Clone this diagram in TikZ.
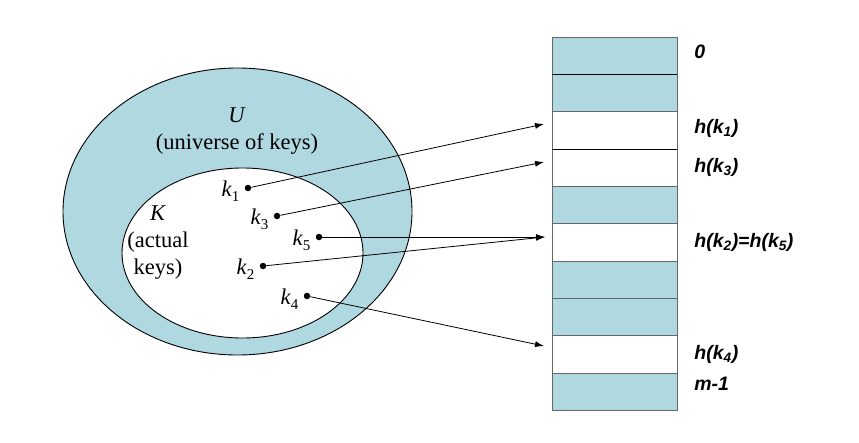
\documentclass[tikz,border=0pt]{standalone}
\usepackage{xcolor}
\usepackage{tikz}
\usepackage{fontspec}
\setmainfont{Liberation Serif}
\newfontfamily\labelfont{Liberation Sans}
\usetikzlibrary{shapes.geometric, arrows, arrows.meta, positioning, calc}

\definecolor{cellblue}{RGB}{176,216,224}

\begin{document}
\begin{tikzpicture}[x=1pt, y=-1pt]
    \tikzstyle{cell} = [rectangle, draw=black!60, fill=cellblue, minimum width=125pt, minimum height=37.3pt, inner sep=0pt]
    \tikzstyle{keydot} = [circle, fill=black, inner sep=0pt, minimum size=6.5pt]
    \tikzstyle{keylbl} = [inner sep=0pt, font=\fontsize{22.5}{27}\selectfont]
    \tikzstyle{slotlbl} = [anchor=west, inner sep=0pt, font=\labelfont\bfseries\itshape\fontsize{19.5}{21}\selectfont]
    \tikzstyle{link} = [-{Latex[length=9pt, width=6pt]}, line width=0.8pt]

    \useasboundingbox (0,0) rectangle (859,442);

    % universe and actual keys
    \node[ellipse, draw, line width=0.9pt, fill=cellblue, minimum width=349pt, minimum height=287pt] (universe) at (237.5,211.5) {};
    \node[ellipse, draw, line width=0.9pt, fill=white, minimum width=241pt, minimum height=170pt] (actual) at (242.5,253) {};

    \node[keylbl, align=center] (ulbl) at (237,131) {\textit{U}\\(universe of keys)};
    \node[keylbl, align=center] (klbl) at (158,243) {\textit{K}\\(actual\\keys)};

    % keys
    \node[keydot] (k1) at (248,188) {};
    \node[keydot] (k3) at (277,216) {};
    \node[keydot] (k5) at (319,237) {};
    \node[keydot] (k2) at (263,266) {};
    \node[keydot] (k4) at (307,296) {};

    \node[keylbl, left=5pt of k1, yshift=-3pt] (k1lbl) {\textit{k}\raisebox{-0.45ex}{\fontsize{15}{15}\selectfont 1}};
    \node[keylbl, left=5pt of k3, yshift=-3pt] (k3lbl) {\textit{k}\raisebox{-0.45ex}{\fontsize{15}{15}\selectfont 3}};
    \node[keylbl, left=5pt of k5, yshift=-3pt] (k5lbl) {\textit{k}\raisebox{-0.45ex}{\fontsize{15}{15}\selectfont 5}};
    \node[keylbl, left=5pt of k2, yshift=-3pt] (k2lbl) {\textit{k}\raisebox{-0.45ex}{\fontsize{15}{15}\selectfont 2}};
    \node[keylbl, left=5pt of k4, yshift=-3pt] (k4lbl) {\textit{k}\raisebox{-0.45ex}{\fontsize{15}{15}\selectfont 4}};

    % hash table
    \node[cell] (cell0) at (614.5,55.65) {};
    \node[cell] (cell1) at (614.5,92.95) {};
    \node[cell, fill=white] (cell2) at (614.5,130.25) {};
    \node[cell, fill=white] (cell3) at (614.5,167.55) {};
    \node[cell] (cell4) at (614.5,204.85) {};
    \node[cell, fill=white] (cell5) at (614.5,242.15) {};
    \node[cell] (cell6) at (614.5,279.45) {};
    \node[cell] (cell7) at (614.5,316.75) {};
    \node[cell, fill=white] (cell8) at (614.5,354.05) {};
    \node[cell] (cell9) at (614.5,391.35) {};
    \draw[thick] (cell0.south west) -- (cell0.south east);
    \draw (cell2.south west) -- (cell2.south east);

    % slot labels
    \node[slotlbl, right=17pt of cell0, yshift=4pt] (s0) {0};
    \node[slotlbl, right=17pt of cell2, yshift=2pt] (s2) {h(k\textsubscript{1})};
    \node[slotlbl, right=17pt of cell3] (s3) {h(k\textsubscript{3})};
    \node[slotlbl, right=17pt of cell5] (s5) {h(k\textsubscript{2})=h(k\textsubscript{5})};
    \node[slotlbl, right=17pt of cell8] (s8) {h(k\textsubscript{4})};
    \node[slotlbl, right=17pt of cell9, yshift=8pt] (s9) {m-1};

    % arrow ends
    \coordinate (t1) at (544,124);
    \coordinate (t3) at (544,162);
    \coordinate (t25) at (545,237);
    \coordinate (t4) at (544,346);

    \draw[link] (k1) -- (t1);
    \draw[link] (k3) -- (t3);
    \draw[link] (k5) -- (t25);
    \draw[link] (k2) -- (t25);
    \draw[link] (k4) -- (t4);
\end{tikzpicture}
\end{document}
